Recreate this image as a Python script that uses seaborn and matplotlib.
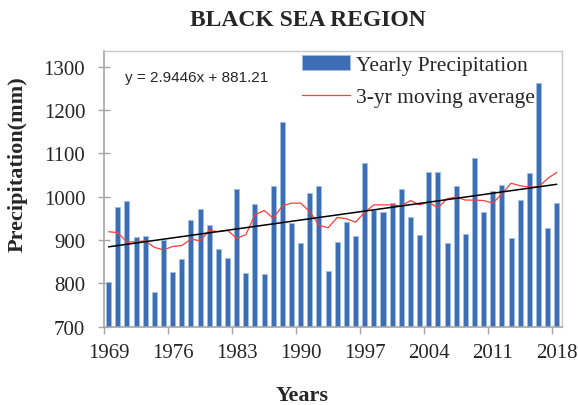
import numpy as np
import matplotlib
matplotlib.use("Agg")
import matplotlib.pyplot as plt
import seaborn as sns

# --- data ---
years = list(range(1969, 2019))
precip = [802, 975, 991, 906, 909, 781, 901, 825, 857, 946,
          972, 935, 878, 859, 1018, 824, 982, 822, 1025, 1172,
          939, 894, 1008, 1025, 828, 895, 942, 910, 1078, 968,
          964, 985, 1018, 952, 912, 1056, 1056, 894, 1025, 914,
          1089, 964, 1014, 1027, 905, 992, 1054, 1262, 928, 986]
moving_avg = [919, 917, 895, 896, 898, 883, 877, 885, 887, 902,
              898, 922, 919, 922, 904, 912, 958, 968, 950, 979,
              985, 985, 965, 934, 928, 952, 949, 941, 964, 981,
              981, 981, 978, 991, 981, 987, 974, 995, 999, 992,
              992, 991, 985, 1006, 1031, 1025, 1022, 1022, 1042, 1056]
trend_slope = 2.9446
trend_intercept = 881.21
tick_years = [1969, 1976, 1983, 1990, 1997, 2004, 2011, 2018]
y_ticks = [700, 800, 900, 1000, 1100, 1200, 1300]

sns.set_theme(style="white")
plt.rcParams["font.family"] = ["Liberation Serif", "DejaVu Serif"]

c_bar = "#3d6eb5"
c_bar_edge = "#9cc0e4"
c_ma = "#ff3b3b"
c_axis = "#a6a6a6"

fig = plt.figure(figsize=(5.78, 4.06), dpi=100)
ax = fig.add_axes([0.180, 0.193, 0.792, 0.680])

bars = sns.barplot(x=years, y=precip, color=c_bar, width=0.55,
                   edgecolor=c_bar_edge, linewidth=0.6, ax=ax, saturation=1)
pos = np.arange(len(years))
ma_line, = ax.plot(pos, moving_avg, color=c_ma, lw=0.9)
trend_x = np.array([1, len(years)])
ax.plot(trend_x - 1, trend_slope * trend_x + trend_intercept, color="black", lw=1.1)

ax.set_xlim(-0.5, 49.55)
ax.set_ylim(700, 1337)
ax.set_yticks(y_ticks)
ax.set_yticklabels([str(v) for v in y_ticks], fontsize=15)
ax.set_xticks([years.index(y) for y in tick_years])
ax.set_xticklabels([str(y) for y in tick_years], fontsize=15)
ax.set_xticks(np.arange(-0.5, 50, 7), minor=True)
ax.tick_params(axis="x", which="major", length=0, pad=12)
ax.tick_params(axis="x", which="minor", length=5, width=1, color=c_axis, direction="out", bottom=True)
ax.tick_params(axis="y", length=9, width=1, color=c_axis, direction="inout", pad=9, left=True)
ax.set_xlabel("")
ax.set_ylabel("")
for side in ["top", "right"]:
    ax.spines[side].set_color("#c8c8c8")
    ax.spines[side].set_linewidth(1)
for side in ["left", "bottom"]:
    ax.spines[side].set_color(c_axis)
    ax.spines[side].set_linewidth(1.2)

ax.text(0.045, 0.905, "y = 2.9446x + 881.21", transform=ax.transAxes,
        fontsize=11, family=["Liberation Sans", "DejaVu Sans"], va="center")

ax.legend(handles=[bars.containers[0], ma_line],
          labels=["Yearly Precipitation", "3-yr moving average"],
          loc="upper left", bbox_to_anchor=(0.405, 1.03), frameon=False,
          fontsize=15.5, handlelength=2.2, handletextpad=0.3, labelspacing=0.55,
          borderaxespad=0.2)

fig.text(0.533, 0.95, "BLACK SEA REGION", ha="center", va="center",
         fontsize=17, fontweight="bold")
fig.text(0.031, 0.595, "Precipitation(mm)", ha="center", va="center",
         rotation=90, fontsize=16, fontweight="bold")
fig.text(0.522, 0.025, "Years", ha="center", va="center",
         fontsize=16, fontweight="bold")

fig.savefig("out.png", dpi=100)
